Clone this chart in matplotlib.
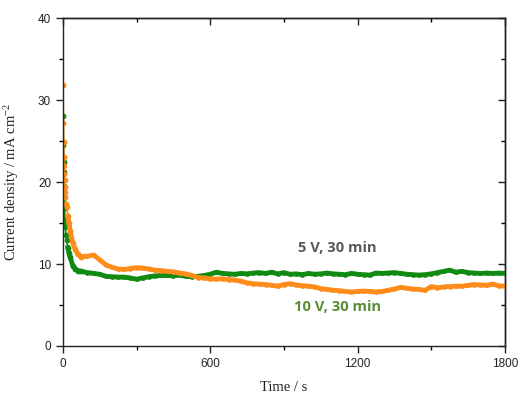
import matplotlib
matplotlib.use("Agg")
import matplotlib.pyplot as plt

plt.rcParams["mathtext.fontset"] = "custom"
plt.rcParams["mathtext.rm"] = "Liberation Serif"
plt.rcParams["mathtext.it"] = "Liberation Serif:italic"

# ---- data ----
early_t = [1, 2, 3, 4, 5, 6, 7, 8, 9, 10, 12, 15, 20, 25, 30, 40, 50, 60]
green_early = [28.0, 24.5, 22.5, 21.2, 19.5, 18.0, 16.8, 15.5, 15.0, 14.5, 13.6, 12.9, 12.0, 11.3, 10.8, 9.8, 9.4, 9.2]
orange_early = [31.8, 27.2, 24.9, 23.1, 22.0, 21.0, 20.2, 19.4, 18.8, 18.2, 17.3, 17.0, 15.8, 15.0, 14.0, 12.6, 11.8, 11.2]

mid_t = list(range(75, 1801, 25))
green_mid = [9.1, 8.95, 8.85, 8.75, 8.5, 8.45, 8.4, 8.4, 8.3, 8.15, 8.3, 8.45, 8.55, 8.6,
             8.6, 8.55, 8.65, 8.5, 8.45, 8.5, 8.6, 8.75, 9.0, 8.85, 8.8, 8.75, 8.85, 8.8,
             8.9, 8.95, 8.85, 9.0, 8.8, 8.95, 8.75, 8.8, 8.7, 8.85, 8.75, 8.8, 8.9, 8.8,
             8.75, 8.7, 8.85, 8.75, 8.7, 8.65, 8.9, 8.85, 8.9, 8.95, 8.85, 8.75, 8.7, 8.65,
             8.7, 8.8, 8.95, 9.1, 9.25, 9.0, 9.1, 8.95, 8.9, 8.85, 8.9, 8.85, 8.9, 8.85]
orange_mid = [10.9, 10.95, 11.1, 10.5, 9.9, 9.6, 9.4, 9.35, 9.45, 9.55, 9.5, 9.4, 9.25, 9.2,
              9.1, 9.05, 8.9, 8.8, 8.6, 8.35, 8.3, 8.2, 8.15, 8.2, 8.1, 8.05, 7.9, 7.7,
              7.6, 7.55, 7.5, 7.4, 7.3, 7.5, 7.6, 7.45, 7.35, 7.3, 7.2, 7.0, 6.9, 6.8,
              6.75, 6.65, 6.6, 6.65, 6.7, 6.65, 6.6, 6.65, 6.8, 6.95, 7.15, 7.05, 6.95, 6.9,
              6.8, 7.25, 7.1, 7.2, 7.25, 7.3, 7.3, 7.4, 7.5, 7.45, 7.4, 7.55, 7.35, 7.3]

x_major = [0, 600, 1200, 1800]
x_minor = [300, 900, 1500]
y_major = [0, 10, 20, 30, 40]
y_minor = [5, 15, 25, 35]

label_5v = "5 V, 30 min"
label_10v = "10 V, 30 min"

# ---- figure ----
fig = plt.figure(figsize=(5.2, 3.93), dpi=100)
ax = fig.add_axes([0.121, 0.1196, 0.850, 0.8344])

green_c = "#118a11"
orange_c = "#ff8c1a"
for t_e, v_e, v_m, c in [(early_t, green_early, green_mid, green_c),
                         (early_t, orange_early, orange_mid, orange_c)]:
    # sparse early transient: thin line with dots
    ax.plot(t_e + mid_t[:1], v_e + v_m[:1], color=c, lw=1.2, marker="o", ms=4.2, mew=0)
    # dense noisy plateau: thick band
    ax.plot(t_e[-6:] + mid_t, v_e[-6:] + v_m, color=c, lw=3.5, marker="o", ms=3.4, mew=0,
            solid_joinstyle="round")

ax.set_xlim(0, 1800)
ax.set_ylim(0, 40)
ax.set_xticks(x_major)
ax.set_xticks(x_minor, minor=True)
ax.set_yticks(y_major)
ax.set_yticks(y_minor, minor=True)

tick_font = "Liberation Sans"
for lab in ax.get_xticklabels() + ax.get_yticklabels():
    lab.set_fontfamily(tick_font)
ax.tick_params(which="major", direction="out", length=5, width=1, labelsize=8.5, colors="#222222")
ax.tick_params(which="minor", direction="out", length=3, width=1)
for s in ax.spines.values():
    s.set_linewidth(1.0)
    s.set_color("#222222")

# mirrored inward ticks on top and right
secx = ax.secondary_xaxis("top", functions=(lambda v: v, lambda v: v))
secx.set_xticks(x_major)
secx.set_xticks(x_minor, minor=True)
secx.tick_params(which="major", direction="in", length=5, width=1, labeltop=False, colors="#222222")
secx.tick_params(which="minor", direction="in", length=3, width=1)
secx.spines["top"].set_linewidth(1.0)
secy = ax.secondary_yaxis("right", functions=(lambda v: v, lambda v: v))
secy.set_yticks(y_major)
secy.set_yticks(y_minor, minor=True)
secy.tick_params(which="major", direction="in", length=5, width=1, labelright=False, colors="#222222")
secy.tick_params(which="minor", direction="in", length=3, width=1)
secy.spines["right"].set_linewidth(1.0)

ax.set_xlabel("Time / s", fontfamily="Liberation Serif", fontsize=10.5, labelpad=8, color="#222222")
ax.set_ylabel("Current density / mA cm$^{-2}$", fontfamily="Liberation Serif", fontsize=10.5,
              labelpad=12, color="#222222")

ax.text(1116, 12.0, label_5v, fontfamily="Open Sans", fontweight="bold", fontsize=10.6,
        color="#5a5a5a", ha="center", va="center")
ax.text(1120, 4.7, label_10v, fontfamily="Open Sans", fontweight="bold", fontsize=10.6,
        color="#5b8c37", ha="center", va="center")

fig.savefig("out.png", dpi=100)
